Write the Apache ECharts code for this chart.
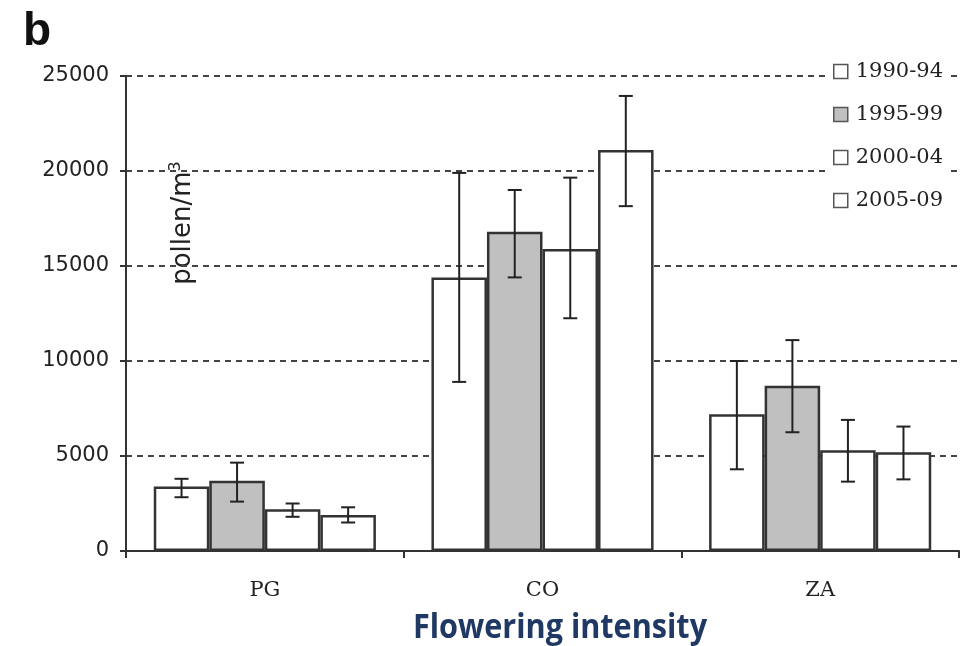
<!DOCTYPE html>
<html lang="en">
<head>
    <meta charset="UTF-8">
    <title>Pollen by flowering intensity</title>
    <script src="https://cdn.jsdelivr.net/npm/echarts@6/dist/echarts.min.js"></script>
    <style type="text/css">
        *{
            padding: 0px;
            margin: 0px;
            border: 0px;
        }
        #chart{
            width: 963px;
            height: 646px;
            background: #fff;
        }
    </style>
</head>
<body>
<div id="chart"></div>
<script>

    // categories and periods
    var categories = ['PG', 'CO', 'ZA'];
    var periods = ['1990-94', '1995-99', '2000-04', '2005-09'];
    var yTicks = [0, 5000, 10000, 15000, 20000, 25000];

    // mean pollen per period (PG, CO, ZA)
    var mean_1990 = [3400, 14400, 7200];
    var mean_1995 = [3700, 16800, 8700];
    var mean_2000 = [2200, 15900, 5300];
    var mean_2005 = [1900, 21100, 5200];

    // error bar ends
    var low_1990 = [2830, 8900, 4300];
    var high_1990 = [3800, 19900, 10000];
    var low_1995 = [2600, 14400, 6250];
    var high_1995 = [4650, 19000, 11100];
    var low_2000 = [1800, 12250, 3650];
    var high_2000 = [2500, 19650, 6900];
    var low_2005 = [1500, 18150, 3770];
    var high_2005 = [2300, 23950, 6550];

    var means = [mean_1990, mean_1995, mean_2000, mean_2005];
    var lows = [low_1990, low_1995, low_2000, low_2005];
    var highs = [high_1990, high_1995, high_2000, high_2005];
    var fills = ['#ffffff', '#c0c0c0', '#ffffff', '#ffffff'];

    var catGap = 0.2;

    var series = [];
    for (var i = 0; i < periods.length; i++) {
        series.push({
            name: periods[i],
            type: 'bar',
            barGap: 0,
            barCategoryGap: (catGap * 100) + '%',
            itemStyle: {color: fills[i], borderColor: '#333', borderWidth: 2.5},
            data: means[i]
        });
    }

    // error bars: [category, series index, low, high]
    var errData = [];
    for (var i = 0; i < periods.length; i++) {
        for (var c = 0; c < categories.length; c++) {
            errData.push([c, i, lows[i][c], highs[i][c]]);
        }
    }
    series.push({
        type: 'custom',
        z: 10,
        silent: true,
        data: errData,
        encode: {x: 0, y: [2, 3]},
        renderItem: function (params, api) {
            var c = api.value(0), idx = api.value(1);
            var lo = api.coord([c, api.value(2)]);
            var hi = api.coord([c, api.value(3)]);
            var band = api.size([1, 0])[0];
            var bw = band * (1 - catGap) / periods.length;
            var x = lo[0] + (idx - 1.5) * bw;
            var cap = 7;
            var st = {stroke: '#222', lineWidth: 2};
            return {
                type: 'group',
                children: [
                    {type: 'line', shape: {x1: x, y1: lo[1], x2: x, y2: hi[1]}, style: st},
                    {type: 'line', shape: {x1: x - cap, y1: lo[1], x2: x + cap, y2: lo[1]}, style: st},
                    {type: 'line', shape: {x1: x - cap, y1: hi[1], x2: x + cap, y2: hi[1]}, style: st}
                ]
            };
        }
    });

    var option = {
        animation: false,
        backgroundColor: '#fff',
        grid: {left: 126, right: 4, top: 76, bottom: 95},
        legend: {
            data: periods,
            orient: 'vertical',
            left: 828,
            top: 59,
            icon: 'rect',
            itemWidth: 14,
            itemHeight: 14,
            itemGap: 22,
            padding: [2, 6, 2, 5],
            backgroundColor: '#fff',
            itemStyle: {borderColor: '#555', borderWidth: 1.5},
            textStyle: {fontFamily: 'DejaVu Serif', fontSize: 21, color: '#222', padding: [0, 0, 0, 3]}
        },
        xAxis: {
            type: 'category',
            data: categories,
            axisLine: {lineStyle: {color: '#333', width: 2}},
            axisTick: {show: true, length: 7, lineStyle: {color: '#333', width: 2}},
            axisLabel: {fontFamily: 'DejaVu Serif', fontSize: 21, color: '#222', margin: 29}
        },
        yAxis: {
            type: 'value',
            min: yTicks[0],
            max: yTicks[yTicks.length - 1],
            interval: 5000,
            axisLine: {show: true, lineStyle: {color: '#333', width: 2}},
            axisTick: {show: true, length: 6, lineStyle: {color: '#333', width: 2}},
            axisLabel: {fontFamily: 'DejaVu Sans', fontSize: 21, color: '#222', margin: 17,
                formatter: function (v) { return String(v); }},
            splitLine: {lineStyle: {color: '#444', width: 2, type: [6, 5]}}
        },
        graphic: [
            {
                type: 'text', left: 23, top: 9,
                style: {text: 'b', font: 'bold 46px "Liberation Sans"', fill: '#111'}
            },
            {
                type: 'text', x: 560, y: 628, scaleX: 0.9,
                style: {text: 'Flowering intensity', font: 'bold 34px "Open Sans"', fill: '#1f3864',
                    align: 'center', verticalAlign: 'middle'}
            },
            {
                type: 'text', x: 183, y: 223, rotation: Math.PI / 2,
                style: {
                    text: '{a|pollen/m}{s|3}',
                    align: 'center', verticalAlign: 'middle',
                    rich: {
                        a: {font: '26px "DejaVu Sans"', fill: '#222', lineHeight: 30},
                        s: {font: '16px "DejaVu Sans"', fill: '#222', verticalAlign: 'top', lineHeight: 30}
                    }
                }
            }
        ],
        series: series
    };

    var chart = echarts.init(document.getElementById('chart'));
    chart.setOption(option);
</script>
</body>
</html>
